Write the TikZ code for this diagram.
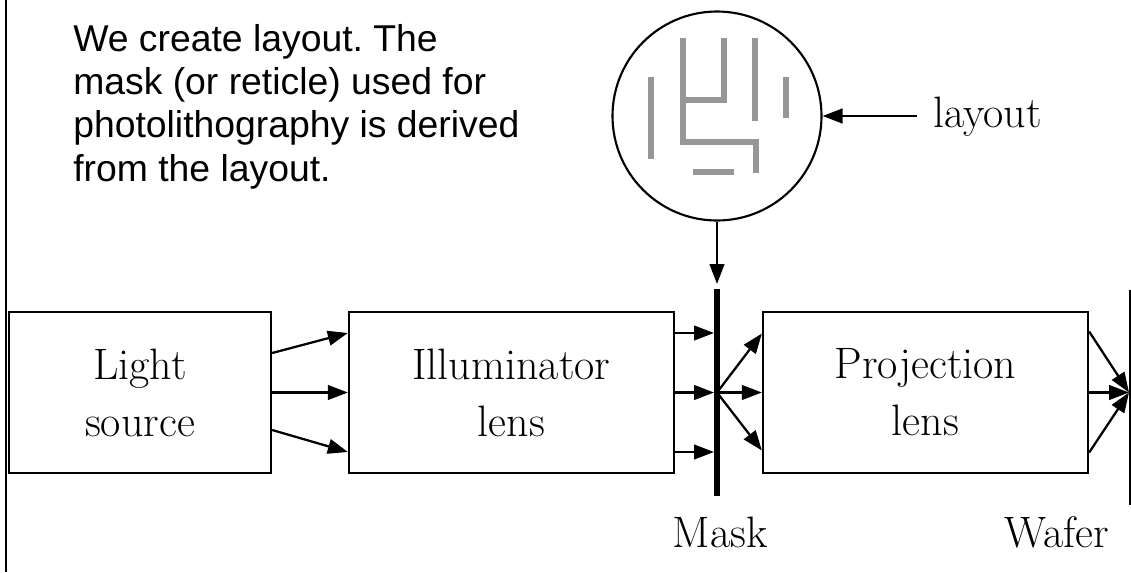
\documentclass[tikz,border=0pt]{standalone}
\usepackage{fontspec}
\newfontfamily\notefont{Liberation Sans}
\usetikzlibrary{arrows.meta,calc}
\definecolor{wiregray}{RGB}{150,150,150}
\frenchspacing
\begin{document}
\begin{tikzpicture}[x=0.75pt,y=-0.75pt,
  stage/.style={draw,line width=1.7pt,minimum height=120.75pt,inner sep=0pt,
    align=center,font=\fontsize{33}{42.75}\selectfont},
  ray/.style={line width=1.7pt,-{Triangle[length=15pt,width=11pt]}},
  tag/.style={inner sep=0pt,font=\fontsize{33}{40}\selectfont},
  wire/.style={draw=wiregray,line width=4.5pt,line join=miter}]
\useasboundingbox (0,0) rectangle (1131,572);

% frame line on the left edge
\draw[line width=1.5pt] (6,0) -- (6,572);

% explanatory note (anchored on the baseline of its last line)
\node[anchor=base west,align=left,inner sep=0pt,
      font=\notefont\fontsize{28}{32.3}\selectfont] (note) at (73,181)
  {We create layout. The\\mask (or reticle) used for\\photolithography is derived\\from the layout.};

% magnified layout
\node[draw,circle,line width=1.6pt,minimum size=156.75pt,inner sep=0pt] (lay) at (717,116) {};
\draw[wire] (651,77) -- (651,159);
\draw[wire] (683,38) -- (683,142) -- (755.5,142) -- (755.5,173);
\draw[wire] (683,100) -- (724,100) -- (724,38);
\draw[wire] (755,38) -- (755,121);
\draw[wire] (786,77) -- (786,118);
\draw[wire] (693,172) -- (734,172);

\coordinate (layarrow) at (917,116);
\node[tag,anchor=base west] (laytag) at (933,127) {layout};
\draw[ray] (layarrow) -- (lay.east);

% optical train
\node[stage,minimum width=196.5pt] (light) at (140,392.5) {Light\\source};
\node[stage,minimum width=243.75pt] (illum) at (511.5,392.5) {Illuminator\\lens};
\node[stage,minimum width=243.75pt] (proj) at (925.5,392.5) {Projection\\lens};

% mask and wafer planes
\coordinate (masktop) at (717,289);
\coordinate (maskbot) at (717,496);
\coordinate (maskc) at (717,392.5);
\draw[line width=4.5pt] (masktop) -- (maskbot);
\coordinate (wafertop) at (1130,290);
\coordinate (waferbot) at (1130,505);
\coordinate (waferc) at (1129,392.5);
\draw[line width=1pt] (wafertop) -- (waferbot);

\node[tag,anchor=base] (masktag) at (720,547) {Mask};
\node[tag,anchor=base] (wafertag) at (1057,547) {Wafer};

% layout feeds the mask
\draw[ray] (lay.south) -- ($(masktop)+(0,-5)$);

% light source to illuminator
\draw[ray] ($(light.east)+(0,-39.5)$) -- ($(illum.west)+(0,-59.5)$);
\draw[ray] (light.east) -- (illum.west);
\draw[ray] ($(light.east)+(0,37.5)$) -- ($(illum.west)+(0,59.5)$);

% illuminator to mask
\draw[ray] ($(illum.east)+(0,-59.5)$) -- ($(maskc)+(-3,-59.5)$);
\draw[ray] (illum.east) -- ($(maskc)+(-3,0)$);
\draw[ray] ($(illum.east)+(0,59.5)$) -- ($(maskc)+(-3,59.5)$);

% mask to projection lens
\draw[ray] (maskc) -- ($(proj.west)+(0,-59)$);
\draw[ray] (maskc) -- (proj.west);
\draw[ray] (maskc) -- ($(proj.west)+(0,58)$);

% projection lens to wafer
\draw[ray] ($(proj.east)+(0,-61)$) -- (waferc);
\draw[ray] (proj.east) -- (waferc);
\draw[ray] ($(proj.east)+(0,60)$) -- (waferc);
\end{tikzpicture}
\end{document}
